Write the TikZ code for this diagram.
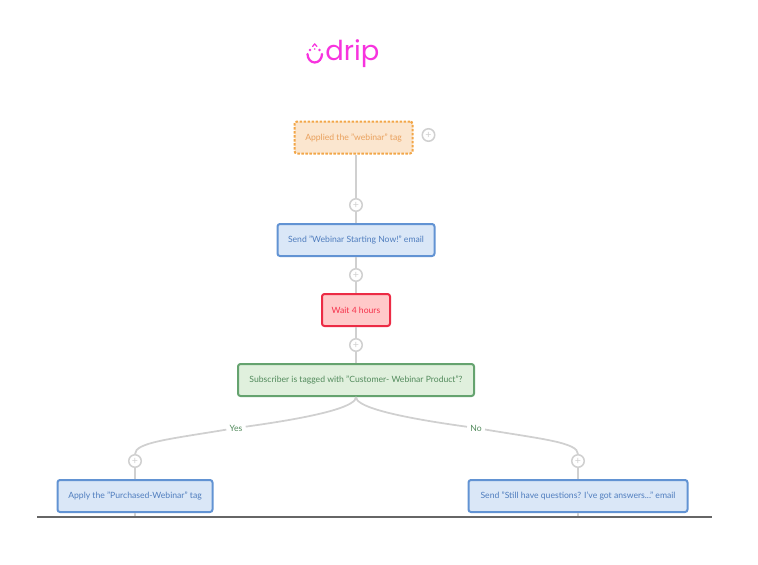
\documentclass[tikz,border=0pt]{standalone}
\usepackage{fontspec}
\setmainfont{Lato}
\newfontfamily\logofont{Poppins}
\usetikzlibrary{positioning, shapes.misc}
\definecolor{dripmag}{HTML}{F733DE}
\definecolor{linegray}{HTML}{D0D0D0}
\definecolor{tagfill}{HTML}{FBE6CF}
\definecolor{tagline}{HTML}{F2A648}
\definecolor{tagtext}{HTML}{E9A05C}
\definecolor{sendfill}{HTML}{DAE7F7}
\definecolor{sendline}{HTML}{6293D3}
\definecolor{sendtext}{HTML}{4F7DBE}
\definecolor{waitfill}{HTML}{FFC9C9}
\definecolor{waitline}{HTML}{EC2B45}
\definecolor{waittext}{HTML}{F5304A}
\definecolor{askfill}{HTML}{E0F0DD}
\definecolor{askline}{HTML}{65A36F}
\definecolor{asktext}{HTML}{528A5C}
\begin{document}
\begin{tikzpicture}[
  node distance=0.22cm,
  box/.style={rectangle, rounded corners=0.05cm, draw, line width=0.04cm, minimum height=0.64cm, align=center, font=\fontsize{4.9}{6}\selectfont},
  tagbox/.style={box, draw=tagline, fill=tagfill, text=tagtext, dash pattern=on 0.05cm off 0.03cm},
  sendbox/.style={box, draw=sendline, fill=sendfill, text=sendtext},
  waitbox/.style={box, draw=waitline, fill=waitfill, text=waittext},
  askbox/.style={box, draw=askline, fill=askfill, text=asktext},
  plus/.style={circle, draw=linegray, fill=white, line width=0.03cm, minimum size=0.25cm, inner sep=0pt, text=linegray, font=\fontsize{6}{6}\selectfont},
  branch/.style={fill=white, text=asktext, inner sep=0.06cm, font=\fontsize{4.9}{6}\selectfont},
  wire/.style={draw=linegray, line width=0.035cm}
]
\useasboundingbox (0,0) rectangle (15.16,-11.28);

% logo
\node[text=dripmag, font=\logofont\fontsize{15.6}{16}\selectfont, anchor=base west, inner sep=0pt] (logo) at (6.5,-1.2) {drip};
\draw[dripmag, line width=0.045cm, line cap=round] (6.15,-1.08) arc (180:360:0.145cm and 0.17cm);
\draw[dripmag, line width=0.025cm, line cap=round] (6.25,-0.93) -- (6.295,-0.88) -- (6.34,-0.93);
\fill[dripmag] (6.2,-1.0) circle (0.028cm) (6.39,-1.0) circle (0.028cm) (6.295,-0.98) circle (0.018cm);

% main column
\node[sendbox, minimum width=3.14cm] (webinar) at (7.12,-4.8) {Send "Webinar Starting Now!" email};
\node[plus, above=of webinar] (plustop) {+};
\node[plus, below=of webinar] (pluswait) {+};
\node[waitbox, minimum width=1.36cm, below=of pluswait] (wait) {Wait 4 hours};
\node[plus, below=of wait] (plusask) {+};
\node[askbox, minimum width=4.72cm, below=of plusask] (ask) {Subscriber is tagged with "Customer- Webinar Product"?};
\node[tagbox, minimum width=2.36cm] (tag) at (7.07,-2.75) {Applied the "webinar" tag};
\node[plus, right=0.16cm of tag, yshift=0.05cm] (plusside) {+};

% branches
\node[sendbox, minimum width=3.1cm] (apply) at (2.7,-9.92) {Apply the "Purchased-Webinar" tag};
\node[sendbox, minimum width=4.38cm] (still) at (11.56,-9.92) {Send "Still have questions? I've got answers..." email};
\node[plus, above=of apply] (plusyes) {+};
\node[plus, above=of still] (plusno) {+};
\node[branch] (yes) at (4.72,-8.56) {Yes};
\node[branch] (no) at (9.52,-8.56) {No};

% rule at the bottom
\coordinate (ruleleft) at (0.74,-10.34);
\coordinate (ruleright) at (14.24,-10.34);

\draw[wire] (plustop |- tag.south) -- (plustop);
\draw[wire] (plustop) -- (webinar);
\draw[wire] (webinar) -- (pluswait);
\draw[wire] (pluswait) -- (wait);
\draw[wire] (wait) -- (plusask);
\draw[wire] (plusask) -- (ask);
\draw[wire] (ask.south) .. controls (7.12,-8.1) and (6.6,-8.3) .. (yes);
\draw[wire] (yes) .. controls (3.4,-8.78) and (2.7,-8.85) .. (plusyes.north);
\draw[wire] (ask.south) .. controls (7.12,-8.1) and (7.64,-8.3) .. (no);
\draw[wire] (no) .. controls (10.84,-8.78) and (11.56,-8.85) .. (plusno.north);
\draw[wire] (plusyes) -- (apply);
\draw[wire] (plusno) -- (still);
\draw[wire] (apply.south) -- (apply.south |- ruleleft);
\draw[wire] (still.south) -- (still.south |- ruleleft);
\draw[black!60, line width=0.025cm] (ruleleft) -- (ruleright);
\end{tikzpicture}
\end{document}
